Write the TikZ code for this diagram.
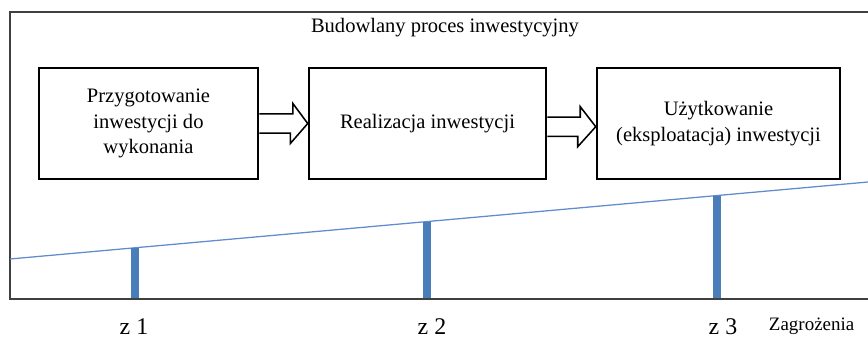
\documentclass[tikz,border=0pt]{standalone}
\usepackage[usenames,dvipsnames]{xcolor}
\usepackage{fontspec}
\setmainfont{Liberation Serif}
\usepackage{tikz}
\usetikzlibrary{arrows,shapes,calc}
\definecolor{riskblue}{RGB}{74,126,187}
\definecolor{trendblue}{RGB}{96,140,205}

\begin{document}
\begin{tikzpicture}[thick,scale=1,
  stage/.style={draw=black, line width=1.8pt, fill=white, minimum height=2.775cm,
    inner sep=0pt, align=center, font=\fontsize{14.6}{18}\selectfont},
  blockarrow/.style={draw=black, line width=1.1pt, fill=white, line join=miter},
  riskbar/.style={draw=riskblue, line width=5.7pt},
  zlabel/.style={anchor=base, inner sep=0pt, font=\fontsize{17}{20}\selectfont}]
\useasboundingbox (0,0) rectangle (21.7,8.45);
% outer frame, open to the right
\draw[black!75, line width=0.9pt] (21.7,8.15) -- (0.25,8.15) -- (0.25,0.975) -- (21.7,0.975);
\node (T) at (11.125,7.75) [font=\fontsize{14.6}{17.5}\selectfont] {Budowlany proces inwestycyjny};
% stages of the process
\node (B1) at (3.7125,5.3625) [stage, minimum width=5.475cm] {Przygotowanie\\inwestycji do\\wykonania};
\node (B2) at (10.6875,5.3625) [stage, minimum width=5.925cm] {Realizacja inwestycji};
\node (B3) at (17.9625,5.3625) [stage, minimum width=6.075cm] {Użytkowanie\\(eksploatacja) inwestycji};
\draw[blockarrow] ($(B1.east)+(0,0.24)$) -- ++(0.84,0) -- ++(0,0.26) -- (B2.west) -- ++(-0.435,-0.5) -- ++(0,0.26) -- ($(B1.east)+(0,-0.24)$);
\draw[blockarrow] ($(B2.east)+(0,0.16)$) -- ++(0.825,0) -- ++(0,0.26) -- ($(B3.west)+(0,-0.08)$) -- ++(-0.45,-0.5) -- ++(0,0.26) -- ($(B2.east)+(0,-0.32)$);
% rising line of threats
\coordinate (L0) at (0.25,1.975);
\coordinate (L1) at (21.7,3.9);
\draw[trendblue, line width=0.9pt] (L0) -- (L1);
\coordinate (T1) at ($(L0)!0.1457!(L1)$);
\coordinate (T2) at ($(L0)!0.486!(L1)$);
\coordinate (T3) at ($(L0)!0.824!(L1)$);
\coordinate (F) at (0,1.0);
\draw[riskbar] (T1) -- (T1 |- F);
\draw[riskbar] (T2) -- (T2 |- F);
\draw[riskbar] (T3) -- (T3 |- F);
\node (Z1) at (3.35,0.1) [zlabel] {z 1};
\node (Z2) at (10.8,0.1) [zlabel] {z 2};
\node (Z3) at (18.075,0.1) [zlabel] {z 3};
\node (Z) at (20.29,0.2) [anchor=base, inner sep=0pt, font=\fontsize{13.5}{16}\selectfont] {Zagrożenia};
\end{tikzpicture}
\end{document}
